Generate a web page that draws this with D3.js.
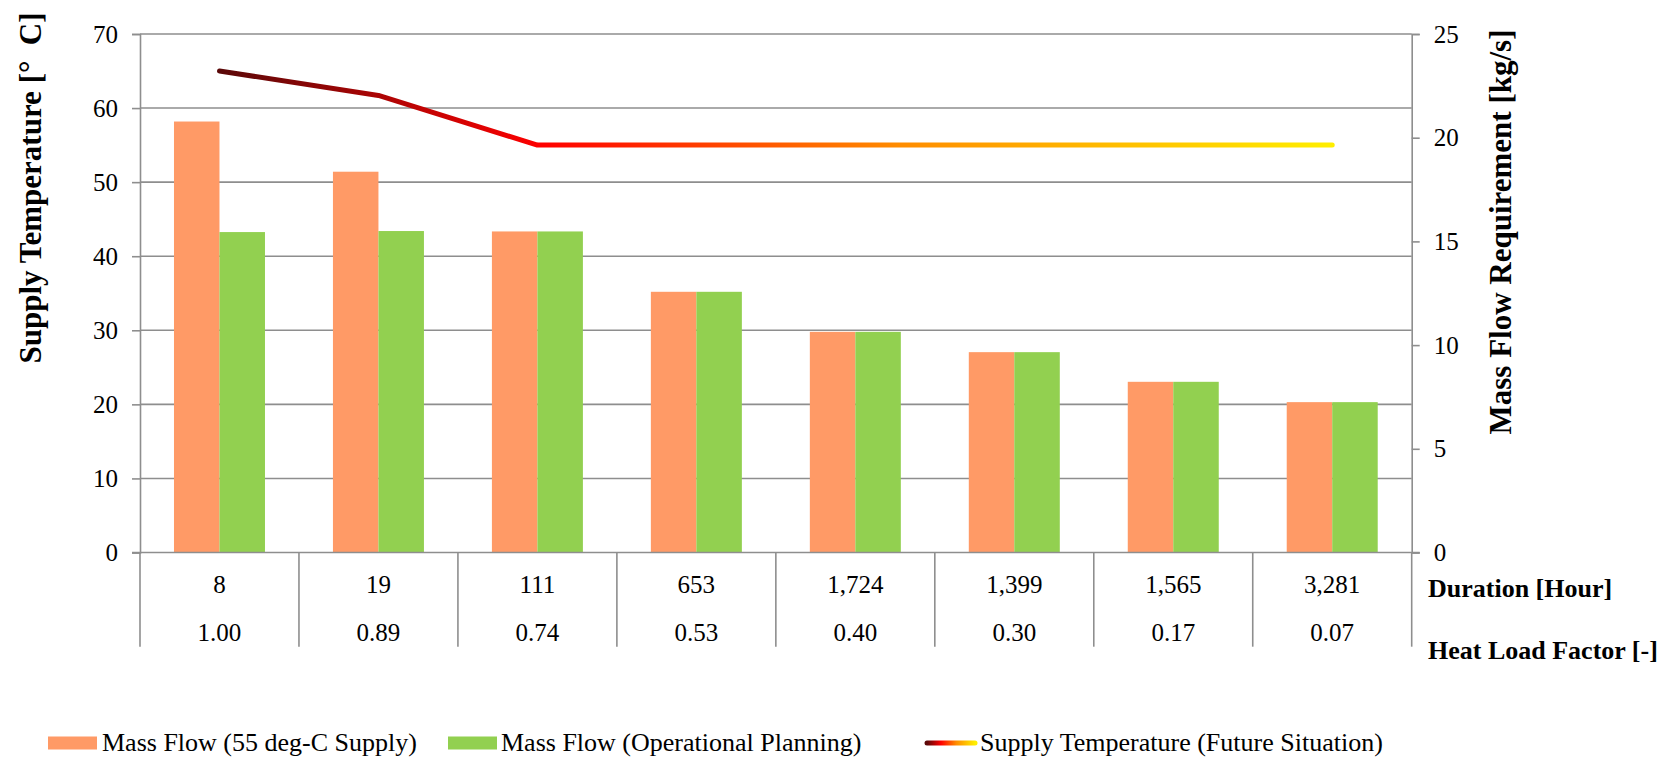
<!DOCTYPE html>
<html>
<head>
<meta charset="utf-8">
<script src="https://cdn.jsdelivr.net/npm/d3@7"></script>
</head>
<body>
<svg id="fig" width="1679" height="760"></svg>
<script>
// Load-duration categories
const durations = ["8", "19", "111", "653", "1,724", "1,399", "1,565", "3,281"];
const heatLoadFactors = ["1.00", "0.89", "0.74", "0.53", "0.40", "0.30", "0.17", "0.07"];

// Mass flow requirement [kg/s]
const massFlow55 = [20.78, 18.36, 15.48, 12.57, 10.64, 9.66, 8.23, 7.25];
const massFlowPlanning = [15.45, 15.5, 15.48, 12.57, 10.64, 9.66, 8.23, 7.25];

// Supply temperature [°C]
const supplyTemp = [65, 61.7, 55, 55, 55, 55, 55, 55];

const leftTicks = [0, 10, 20, 30, 40, 50, 60, 70];
const rightTicks = [0, 5, 10, 15, 20, 25];

const seriesNames = ["Mass Flow (55 deg-C Supply)", "Mass Flow (Operational Planning)"];
const seriesColors = ["#ff9a66", "#92d050"];
const lineName = "Supply Temperature (Future Situation)";

const FONT = "Liberation Serif";

const svg = d3.select("#fig");
d3.select("body").style("margin", "0px");

const plot = { left: 140, right: 1411.7, top: 34, bottom: 552.5 };
const gridColor = "#8e8e8e";

const x = d3.scaleBand()
  .domain(d3.range(durations.length))
  .range([plot.left, plot.right])
  .paddingInner(0).paddingOuter(0);

const xs = d3.scaleBand()
  .domain(seriesNames)
  .range([0, x.bandwidth()])
  .paddingInner(0).paddingOuter(0.747);

const yLeft = d3.scaleLinear().domain([0, 70]).range([plot.bottom, plot.top]);
const yRight = d3.scaleLinear().domain([0, 25]).range([plot.bottom, plot.top]);

function label(sel, size, bold) {
  sel.attr("font-size", size)
    .attr("fill", "#000")
    .style("font-family", FONT, "important")
    .style("font-size", size + "px", "important")
    .style("font-weight", bold ? "700" : "400", "important");
  return sel;
}

// Horizontal gridlines
svg.append("g")
  .selectAll("line")
  .data(leftTicks.filter(d => d > 0))
  .join("line")
  .attr("x1", plot.left).attr("x2", plot.right)
  .attr("y1", d => yLeft(d)).attr("y2", d => yLeft(d))
  .attr("stroke", gridColor).attr("stroke-width", 1.6);

// Bars
const barData = [];
durations.forEach((_, i) => {
  barData.push({ i, s: seriesNames[0], v: massFlow55[i], c: seriesColors[0] });
  barData.push({ i, s: seriesNames[1], v: massFlowPlanning[i], c: seriesColors[1] });
});
svg.append("g")
  .selectAll("rect")
  .data(barData)
  .join("rect")
  .attr("x", d => x(d.i) + xs(d.s))
  .attr("width", xs.bandwidth())
  .attr("y", d => yRight(d.v))
  .attr("height", d => yRight(0) - yRight(d.v))
  .attr("fill", d => d.c);

// Left axis
const axL = svg.append("g")
  .attr("transform", `translate(${plot.left},0)`)
  .call(d3.axisLeft(yLeft).tickValues(leftTicks).tickSize(8).tickPadding(14));
axL.attr("font-family", null).attr("font-size", null);
axL.select(".domain").attr("stroke", gridColor).attr("stroke-width", 1.6);
axL.selectAll(".tick line").attr("stroke", gridColor).attr("stroke-width", 1.6);
label(axL.selectAll(".tick text"), 25);

// Right axis
const axR = svg.append("g")
  .attr("transform", `translate(${plot.right},0)`)
  .call(d3.axisRight(yRight).tickValues(rightTicks).tickSize(8).tickPadding(14));
axR.attr("font-family", null).attr("font-size", null);
axR.select(".domain").attr("stroke", gridColor).attr("stroke-width", 1.6);
axR.selectAll(".tick line").attr("stroke", gridColor).attr("stroke-width", 1.6);
label(axR.selectAll(".tick text"), 25);

// Category axis: baseline, separators and two label rows
const tableBottom = 646.7;
svg.append("line")
  .attr("x1", plot.left - 8).attr("x2", plot.right + 8)
  .attr("y1", plot.bottom).attr("y2", plot.bottom)
  .attr("stroke", gridColor).attr("stroke-width", 1.6);

const bounds = d3.range(durations.length + 1).map(i =>
  i < durations.length ? x(i) : x(durations.length - 1) + x.bandwidth());
svg.append("g")
  .selectAll("line")
  .data(bounds)
  .join("line")
  .attr("x1", d => d).attr("x2", d => d)
  .attr("y1", plot.bottom).attr("y2", tableBottom)
  .attr("stroke", gridColor).attr("stroke-width", 1.6);

label(svg.append("g")
  .selectAll("text")
  .data(durations)
  .join("text")
  .attr("x", (d, i) => x(i) + x.bandwidth() / 2)
  .attr("y", 593)
  .attr("text-anchor", "middle")
  .text(d => d), 25);

label(svg.append("g")
  .selectAll("text")
  .data(heatLoadFactors)
  .join("text")
  .attr("x", (d, i) => x(i) + x.bandwidth() / 2)
  .attr("y", 641)
  .attr("text-anchor", "middle")
  .text(d => d), 25);

label(svg.append("text")
  .attr("x", 1428).attr("y", 597)
  .text("Duration [Hour]"), 26, true);
label(svg.append("text")
  .attr("x", 1428).attr("y", 659)
  .text("Heat Load Factor [-]"), 26, true);

// Axis titles
label(svg.append("text")
  .attr("transform", "translate(41,188) rotate(-90)")
  .attr("text-anchor", "middle")
  .style("white-space", "pre")
  .text("Supply Temperature [°  C]"), 31, true);

label(svg.append("text")
  .attr("transform", "translate(1511,232) rotate(-90)")
  .attr("text-anchor", "middle")
  .text("Mass Flow Requirement [kg/s]"), 31, true);

// Gradient for the supply temperature line
const defs = svg.append("defs");
const gradStops = [
  { o: 0, c: "#5a0808" },
  { o: 0.29, c: "#ff0000" },
  { o: 0.61, c: "#ff8c00" },
  { o: 1, c: "#ffee00" }
];
const xFirst = x(0) + x.bandwidth() / 2;
const xLast = x(durations.length - 1) + x.bandwidth() / 2;
const lg = defs.append("linearGradient")
  .attr("id", "tempGrad")
  .attr("gradientUnits", "userSpaceOnUse")
  .attr("x1", xFirst).attr("x2", xLast).attr("y1", 0).attr("y2", 0);
lg.selectAll("stop").data(gradStops).join("stop")
  .attr("offset", d => d.o).attr("stop-color", d => d.c);

const line = d3.line()
  .x((d, i) => x(i) + x.bandwidth() / 2)
  .y(d => yLeft(d));
svg.append("path")
  .datum(supplyTemp)
  .attr("d", line)
  .attr("fill", "none")
  .attr("stroke", "url(#tempGrad)")
  .attr("stroke-width", 5)
  .attr("stroke-linecap", "round")
  .attr("stroke-linejoin", "round");

// Legend
const legendY = 743;
const lgItems = svg.append("g");
lgItems.append("rect").attr("x", 48).attr("y", legendY - 6.5).attr("width", 49).attr("height", 13).attr("fill", seriesColors[0]);
label(lgItems.append("text").attr("x", 102).attr("y", legendY + 8).text(seriesNames[0]), 26);
lgItems.append("rect").attr("x", 448).attr("y", legendY - 6.5).attr("width", 49).attr("height", 13).attr("fill", seriesColors[1]);
label(lgItems.append("text").attr("x", 501).attr("y", legendY + 8).text(seriesNames[1]), 26);

const lg2 = defs.append("linearGradient")
  .attr("id", "tempGradLegend")
  .attr("gradientUnits", "userSpaceOnUse")
  .attr("x1", 927).attr("x2", 975).attr("y1", 0).attr("y2", 0);
lg2.selectAll("stop").data(gradStops).join("stop")
  .attr("offset", d => d.o).attr("stop-color", d => d.c);
lgItems.append("line")
  .attr("x1", 927).attr("x2", 975).attr("y1", legendY).attr("y2", legendY)
  .attr("stroke", "url(#tempGradLegend)").attr("stroke-width", 5).attr("stroke-linecap", "round");
label(lgItems.append("text").attr("x", 980).attr("y", legendY + 8).text(lineName), 26);
</script>
</body>
</html>
